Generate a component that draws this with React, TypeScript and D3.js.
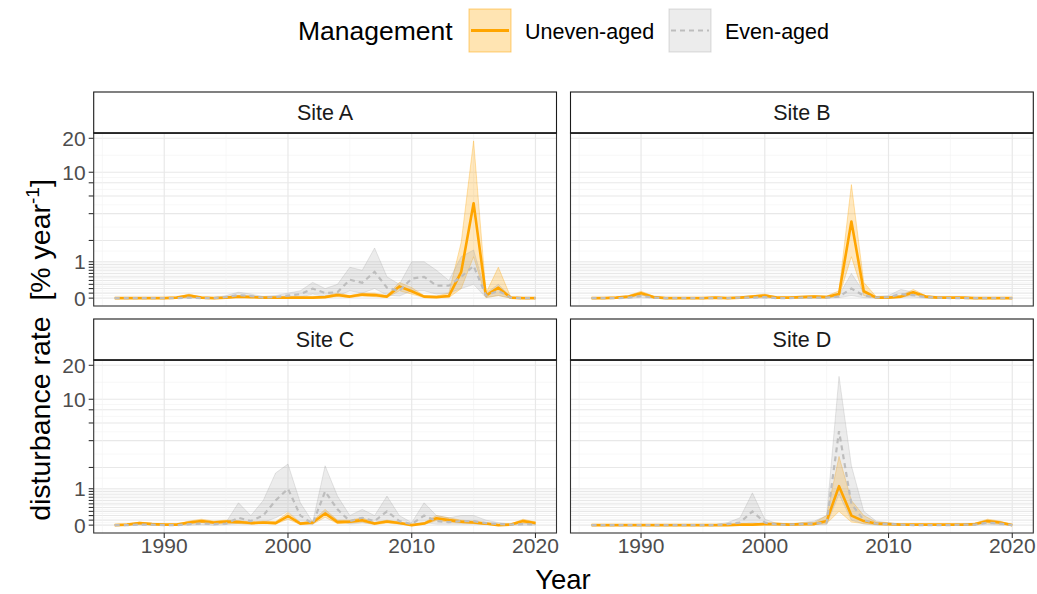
import React from "react";
import * as d3 from "d3";

// ---------------- DATA ----------------
const years = [1986, 1987, 1988, 1989, 1990, 1991, 1992, 1993, 1994, 1995, 1996, 1997, 1998, 1999, 2000, 2001, 2002, 2003, 2004, 2005, 2006, 2007, 2008, 2009, 2010, 2011, 2012, 2013, 2014, 2015, 2016, 2017, 2018, 2019, 2020];
const siteNames = ["Site A", "Site B", "Site C", "Site D"];

// Site A
const aUneven = [0, 0, 0, 0, 0, 0.01, 0.05, 0.01, 0, 0.01, 0.03, 0.02, 0.01, 0.01, 0.01, 0.01, 0.01, 0.02, 0.06, 0.03, 0.07, 0.06, 0.03, 0.25, 0.14, 0.03, 0.02, 0.04, 0.65, 5.1, 0.05, 0.22, 0.01, 0, 0];
const aUnevenLo = [0, 0, 0, 0, 0, 0, 0.02, 0, 0, 0, 0.01, 0.01, 0, 0, 0, 0, 0, 0.01, 0.03, 0.01, 0.04, 0.03, 0.01, 0.15, 0.08, 0.01, 0.01, 0.01, 0.2, 1.2, 0.01, 0.05, 0, 0, 0];
const aUnevenHi = [0, 0, 0, 0, 0.01, 0.02, 0.08, 0.02, 0.01, 0.02, 0.05, 0.04, 0.02, 0.02, 0.02, 0.02, 0.02, 0.04, 0.1, 0.05, 0.1, 0.1, 0.05, 0.35, 0.22, 0.05, 0.04, 0.1, 1.9, 19, 0.1, 0.8, 0.02, 0, 0];
const aEven = [0, 0, 0, 0, 0, 0, 0.01, 0, 0, 0.02, 0.06, 0.04, 0.01, 0.02, 0.05, 0.08, 0.2, 0.1, 0.12, 0.42, 0.34, 0.65, 0.22, 0.15, 0.45, 0.5, 0.27, 0.27, 0.5, 0.85, 0.05, 0.15, 0.01, 0, 0];
const aEvenLo = [0, 0, 0, 0, 0, 0, 0, 0, 0, 0, 0.02, 0.01, 0, 0, 0.01, 0.02, 0.08, 0.03, 0.04, 0.15, 0.1, 0.2, 0.06, 0.04, 0.15, 0.15, 0.08, 0.1, 0.2, 0.3, 0.01, 0.05, 0, 0, 0];
const aEvenHi = [0, 0, 0, 0, 0, 0.01, 0.03, 0.01, 0, 0.05, 0.12, 0.08, 0.03, 0.05, 0.1, 0.15, 0.35, 0.2, 0.3, 0.8, 0.7, 1.6, 0.5, 0.3, 1.0, 1.0, 0.7, 0.4, 1.2, 1.5, 0.1, 0.3, 0.02, 0, 0];

// Site B
const bUneven = [0, 0, 0.01, 0.03, 0.1, 0.02, 0, 0, 0, 0, 0.01, 0, 0.01, 0.03, 0.05, 0.01, 0.01, 0.02, 0.03, 0.02, 0.08, 3.3, 0.14, 0.01, 0.01, 0.03, 0.12, 0.03, 0.01, 0.01, 0.01, 0, 0, 0, 0];
const bUnevenLo = [0, 0, 0, 0.01, 0.06, 0, 0, 0, 0, 0, 0, 0, 0, 0.01, 0.02, 0, 0, 0.01, 0.01, 0.01, 0.03, 1.2, 0.05, 0, 0, 0.01, 0.07, 0.01, 0, 0, 0, 0, 0, 0, 0];
const bUnevenHi = [0, 0.01, 0.02, 0.05, 0.14, 0.04, 0.01, 0.01, 0.01, 0.01, 0.02, 0.01, 0.02, 0.05, 0.08, 0.02, 0.02, 0.04, 0.05, 0.04, 0.15, 7.7, 0.35, 0.03, 0.02, 0.05, 0.18, 0.05, 0.02, 0.02, 0.02, 0.01, 0, 0, 0];
const bEven = [0, 0, 0, 0.01, 0.04, 0.01, 0, 0, 0, 0, 0, 0, 0.01, 0.01, 0.02, 0, 0, 0.01, 0.01, 0.01, 0.03, 0.2, 0.05, 0.01, 0.02, 0.08, 0.06, 0.02, 0.01, 0, 0, 0, 0, 0, 0];
const bEvenLo = [0, 0, 0, 0, 0.01, 0, 0, 0, 0, 0, 0, 0, 0, 0, 0, 0, 0, 0, 0, 0, 0.01, 0.05, 0.01, 0, 0, 0.02, 0.02, 0, 0, 0, 0, 0, 0, 0, 0];
const bEvenHi = [0, 0, 0.01, 0.02, 0.07, 0.02, 0, 0, 0, 0, 0.01, 0.01, 0.02, 0.03, 0.04, 0.01, 0.01, 0.02, 0.02, 0.03, 0.06, 0.6, 0.12, 0.03, 0.05, 0.18, 0.12, 0.04, 0.02, 0.01, 0, 0, 0, 0, 0];

// Site C
const cUneven = [0, 0.01, 0.04, 0.02, 0.01, 0.01, 0.05, 0.08, 0.05, 0.07, 0.06, 0.04, 0.05, 0.04, 0.19, 0.03, 0.05, 0.25, 0.06, 0.07, 0.1, 0.03, 0.07, 0.04, 0, 0.03, 0.14, 0.1, 0.07, 0.05, 0.03, 0, 0.01, 0.08, 0.04];
const cUnevenLo = [0, 0, 0.02, 0.01, 0, 0, 0.03, 0.05, 0.03, 0.04, 0.03, 0.02, 0.03, 0.02, 0.12, 0.01, 0.02, 0.16, 0.03, 0.04, 0.06, 0.01, 0.04, 0.02, 0, 0.01, 0.09, 0.06, 0.04, 0.03, 0.01, 0, 0, 0.04, 0.02];
const cUnevenHi = [0.01, 0.02, 0.06, 0.04, 0.02, 0.02, 0.08, 0.12, 0.08, 0.1, 0.09, 0.06, 0.08, 0.07, 0.27, 0.05, 0.08, 0.35, 0.1, 0.1, 0.15, 0.05, 0.1, 0.06, 0.01, 0.05, 0.2, 0.15, 0.1, 0.08, 0.05, 0.01, 0.02, 0.12, 0.06];
const cEven = [0, 0, 0.01, 0.01, 0, 0, 0.02, 0.03, 0.02, 0.03, 0.15, 0.08, 0.2, 0.6, 1.0, 0.2, 0.03, 0.9, 0.35, 0.08, 0.15, 0.08, 0.3, 0.08, 0.02, 0.2, 0.08, 0.06, 0.08, 0.08, 0.04, 0.02, 0.01, 0.02, 0.01];
const cEvenLo = [0, 0, 0, 0, 0, 0, 0, 0.01, 0, 0.01, 0.03, 0.02, 0.05, 0.15, 0.3, 0.05, 0.01, 0.3, 0.1, 0.02, 0.04, 0.02, 0.08, 0.02, 0, 0.05, 0.02, 0.02, 0.02, 0.02, 0.01, 0, 0, 0, 0];
const cEvenHi = [0, 0.01, 0.02, 0.02, 0.01, 0.01, 0.04, 0.05, 0.04, 0.06, 0.53, 0.2, 0.6, 1.7, 2.2, 0.53, 0.06, 2.1, 0.74, 0.2, 0.35, 0.2, 0.74, 0.2, 0.05, 0.53, 0.2, 0.15, 0.2, 0.2, 0.1, 0.05, 0.02, 0.04, 0.02];

// Site D
const dUneven = [0, 0, 0, 0, 0, 0, 0, 0, 0, 0, 0, 0, 0.01, 0.01, 0.02, 0.02, 0.01, 0.02, 0.02, 0.08, 1.1, 0.2, 0.08, 0.03, 0.02, 0.01, 0.01, 0.01, 0.01, 0.01, 0.01, 0.02, 0.08, 0.05, 0];
const dUnevenLo = [0, 0, 0, 0, 0, 0, 0, 0, 0, 0, 0, 0, 0, 0, 0.01, 0.01, 0, 0.01, 0.01, 0.03, 0.3, 0.06, 0.03, 0.01, 0.01, 0, 0, 0, 0, 0, 0, 0.01, 0.04, 0.02, 0];
const dUnevenHi = [0, 0, 0, 0, 0, 0, 0, 0.01, 0.01, 0.01, 0.01, 0.01, 0.02, 0.02, 0.04, 0.04, 0.02, 0.04, 0.05, 0.2, 2.7, 0.6, 0.2, 0.06, 0.04, 0.02, 0.02, 0.02, 0.02, 0.02, 0.02, 0.04, 0.12, 0.08, 0.01];
const dEven = [0, 0, 0, 0, 0, 0, 0, 0, 0, 0, 0, 0.02, 0.05, 0.3, 0.05, 0.01, 0.01, 0.02, 0.03, 0.05, 5, 0.5, 0.1, 0.03, 0.02, 0.01, 0, 0, 0, 0, 0.01, 0.01, 0.05, 0.03, 0];
const dEvenLo = [0, 0, 0, 0, 0, 0, 0, 0, 0, 0, 0, 0, 0.01, 0.05, 0.01, 0, 0, 0, 0.01, 0.01, 0.8, 0.1, 0.02, 0, 0, 0, 0, 0, 0, 0, 0, 0, 0.01, 0, 0];
const dEvenHi = [0, 0, 0, 0, 0, 0, 0, 0, 0, 0, 0.01, 0.05, 0.15, 0.85, 0.12, 0.03, 0.02, 0.05, 0.08, 0.2, 16, 2.1, 0.3, 0.08, 0.05, 0.02, 0.01, 0.01, 0.01, 0.01, 0.02, 0.02, 0.1, 0.06, 0];

const yBreaks = [0, 0.1, 0.2, 0.3, 0.4, 0.5, 0.6, 0.7, 0.8, 0.9, 1, 2, 4, 6, 8, 10, 20];
const yLabelled = [0, 1, 10, 20];
const xBreaks = [1990, 2000, 2010, 2020];
const xMinor = [1985, 1995, 2005, 2015];

// ---------------- LAYOUT ----------------
const W = 1037;
const H = 594;
const colLeft = [93.7, 570.5];
const panelW = 462.8;
const rowTop = [92, 319];
const stripH = 41;
const plotH = 173;

const ORANGE = "#FFA500";
const GREY = "#bdbdbd";
const FONT = "'Liberation Sans', Arial, Helvetica, sans-serif";

const siteData = [
  { uneven: aUneven, unevenLo: aUnevenLo, unevenHi: aUnevenHi, even: aEven, evenLo: aEvenLo, evenHi: aEvenHi },
  { uneven: bUneven, unevenLo: bUnevenLo, unevenHi: bUnevenHi, even: bEven, evenLo: bEvenLo, evenHi: bEvenHi },
  { uneven: cUneven, unevenLo: cUnevenLo, unevenHi: cUnevenHi, even: cEven, evenLo: cEvenLo, evenHi: cEvenHi },
  { uneven: dUneven, unevenLo: dUnevenLo, unevenHi: dUnevenHi, even: dEven, evenLo: dEvenLo, evenHi: dEvenHi },
];

const tr = (v: number) => Math.log10(1 + v);
const allMax = d3.max(siteData.flatMap((s) => [...s.unevenHi, ...s.evenHi])) as number;
const tMax = tr(allMax);

function Panel({ idx }: { idx: number }) {
  const col = idx % 2;
  const row = Math.floor(idx / 2);
  const left = colLeft[col];
  const top = rowTop[row];
  const pTop = top + stripH;
  const pBot = pTop + plotH;
  const s = siteData[idx];

  const xExt = d3.extent(years) as [number, number];
  const span = xExt[1] - xExt[0];
  const x = d3.scaleLinear().domain([xExt[0] - 0.05 * span, xExt[1] + 0.05 * span]).range([left, left + panelW]);
  const yT = d3.scaleLinear().domain([-0.05 * tMax, 1.05 * tMax]).range([pBot, pTop]);
  const y = (v: number) => yT(tr(v));

  const idxs = years.map((_, i) => i);
  const area = (lo: number[], hi: number[]) =>
    d3.area<number>().x((i) => x(years[i])).y0((i) => y(lo[i])).y1((i) => y(hi[i]))(idxs) as string;
  const line = (m: number[]) => d3.line<number>().x((i) => x(years[i])).y((i) => y(m[i]))(idxs) as string;

  const tb = yBreaks.map(tr);
  const minorY = tb.slice(1).map((t, i) => (t + tb[i]) / 2);

  const clipId = `clip${idx}`;
  return (
    <g>
      <defs>
        <clipPath id={clipId}>
          <rect x={left} y={pTop} width={panelW} height={plotH} />
        </clipPath>
      </defs>
      <rect x={left} y={pTop} width={panelW} height={plotH} fill="#fff" />
      <g clipPath={`url(#${clipId})`}>
        {minorY.map((t, i) => (
          <line key={"mn" + i} x1={left} x2={left + panelW} y1={yT(t)} y2={yT(t)} stroke="#f2f2f2" strokeWidth={0.6} />
        ))}
        {yBreaks.map((b, i) => (
          <line key={"mj" + i} x1={left} x2={left + panelW} y1={y(b)} y2={y(b)} stroke="#e8e8e8" strokeWidth={1.1} />
        ))}
        {xMinor.map((b, i) => (
          <line key={"xm" + i} x1={x(b)} x2={x(b)} y1={pTop} y2={pBot} stroke="#f2f2f2" strokeWidth={0.6} />
        ))}
        {xBreaks.map((b, i) => (
          <line key={"xj" + i} x1={x(b)} x2={x(b)} y1={pTop} y2={pBot} stroke="#e8e8e8" strokeWidth={1.2} />
        ))}
        <path d={area(s.unevenLo, s.unevenHi)} fill={ORANGE} fillOpacity={0.25} stroke={ORANGE} strokeOpacity={0.45} strokeWidth={0.7} />
        <path d={area(s.evenLo, s.evenHi)} fill="#9e9e9e" fillOpacity={0.2} stroke="#9e9e9e" strokeOpacity={0.35} strokeWidth={0.7} />
        <path d={line(s.uneven)} fill="none" stroke={ORANGE} strokeWidth={2.6} strokeLinejoin="round" />
        <path d={line(s.even)} fill="none" stroke={GREY} strokeWidth={2.2} strokeDasharray="5,4" />
      </g>
      <rect x={left} y={pTop} width={panelW} height={plotH} fill="none" stroke="#333" strokeWidth={1.1} />
      {/* strip */}
      <rect x={left} y={top} width={panelW} height={stripH} fill="#fff" stroke="#1a1a1a" strokeWidth={1.1} />
      <line x1={left} x2={left + panelW} y1={pTop} y2={pTop} stroke="#1a1a1a" strokeWidth={1.6} />
      <text x={left + panelW / 2} y={top + stripH / 2 + 7.5} textAnchor="middle" fontSize={21.5} fill="#1a1a1a" fontFamily={FONT}>
        {siteNames[idx]}
      </text>
      {/* y axis on left column */}
      {col === 0 &&
        yBreaks.map((b, i) => (
          <g key={"yt" + i}>
            <line x1={left - 5} x2={left} y1={y(b)} y2={y(b)} stroke="#333" strokeWidth={1.1} />
            {yLabelled.includes(b) && (
              <text x={left - 8} y={y(b) + 7.5} textAnchor="end" fontSize={21} fill="#4d4d4d" fontFamily={FONT}>
                {b}
              </text>
            )}
          </g>
        ))}
      {/* x axis on bottom row */}
      {row === 1 &&
        xBreaks.map((b, i) => (
          <g key={"xt" + i}>
            <line x1={x(b)} x2={x(b)} y1={pBot} y2={pBot + 5} stroke="#333" strokeWidth={1.1} />
            <text x={x(b)} y={pBot + 20} textAnchor="middle" fontSize={21} fill="#4d4d4d" fontFamily={FONT}>
              {b}
            </text>
          </g>
        ))}
    </g>
  );
}

export default function App() {
  return (
    <svg width={W} height={H} style={{ display: "block", position: "absolute", left: 0, top: 0 }} fontFamily={FONT}>
      <rect width={W} height={H} fill="#fff" />
      {/* legend */}
      <text x={298} y={40} fontSize={26.5} fill="#000">Management</text>
      <rect x={469} y={9} width={42} height={43} fill={ORANGE} fillOpacity={0.3} stroke={ORANGE} strokeOpacity={0.5} strokeWidth={1} />
      <line x1={471} x2={509} y1={30.5} y2={30.5} stroke={ORANGE} strokeWidth={2.8} />
      <text x={525} y={39} fontSize={21.5} fill="#000">Uneven-aged</text>
      <rect x={669} y={9} width={42} height={43} fill="#9e9e9e" fillOpacity={0.2} stroke="#9e9e9e" strokeOpacity={0.35} strokeWidth={1} />
      <line x1={671} x2={709} y1={30.5} y2={30.5} stroke={GREY} strokeWidth={2.2} strokeDasharray="5,4" />
      <text x={725} y={39} fontSize={21.5} fill="#000">Even-aged</text>

      {[0, 1, 2, 3].map((i) => (
        <Panel key={i} idx={i} />
      ))}

      {/* axis titles */}
      <text transform="translate(50,350) rotate(-90)" textAnchor="middle" fontSize={28.5} fill="#000">
        {"disturbance rate\u00a0\u00a0[% year"}
        <tspan dy={-11} fontSize={19}>-1</tspan>
        <tspan dy={11}>]</tspan>
      </text>
      <text x={563} y={589} textAnchor="middle" fontSize={27.5} fill="#000">Year</text>
    </svg>
  );
}
